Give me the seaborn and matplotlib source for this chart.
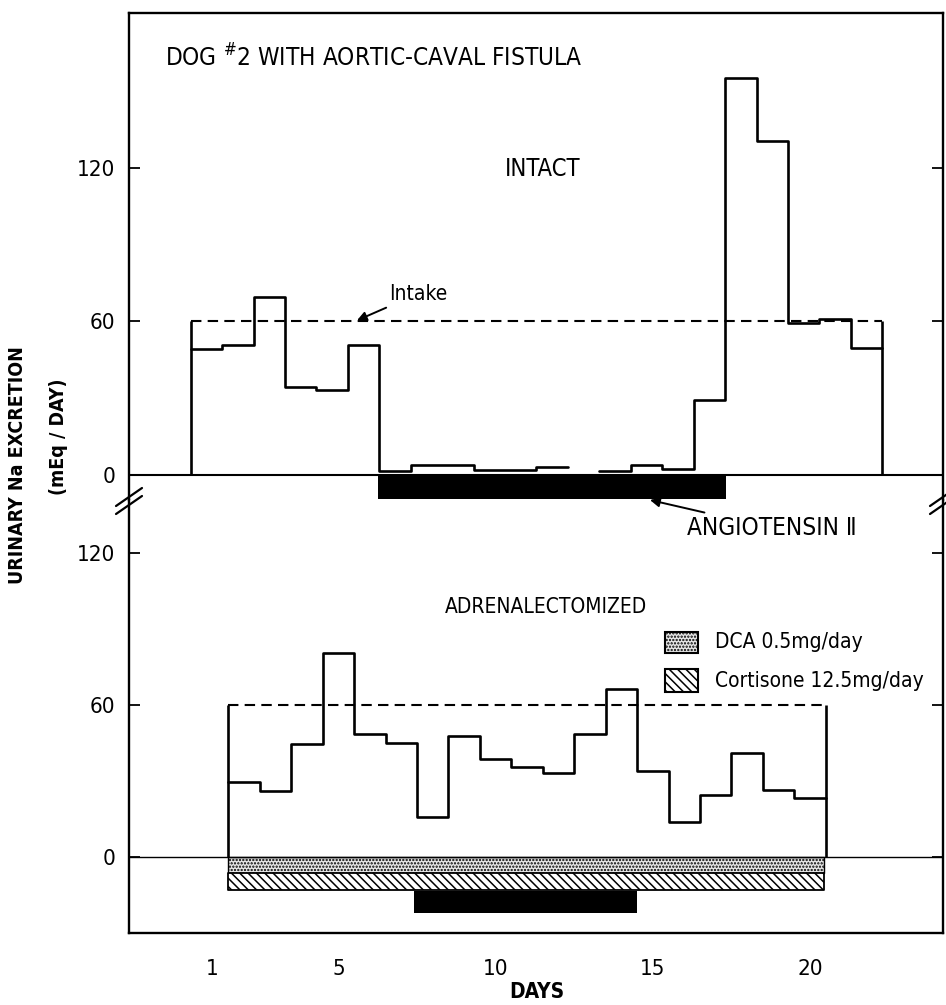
import numpy as np
import pandas as pd
import matplotlib
matplotlib.use('Agg')
import matplotlib.pyplot as plt
import matplotlib.font_manager as fm
from matplotlib.lines import Line2D
from matplotlib.patches import Rectangle
import seaborn as sns

# --- data (mEq/day) ---
intact_values = [49.4, 50.8, 69.5, 34.4, 33.1, 50.8, 1.7, 4.0, 4.0, 2.0, 2.0, 3.1,
                 np.nan, 1.6, 3.9, 2.2, 29.3, 155.0, 130.6, 59.3, 61.1, 49.5]
adx_values = [29.7, 26.1, 44.6, 80.4, 48.4, 44.9, 15.9, 47.9, 38.8, 35.5, 33.0,
              48.4, 66.3, 34.0, 13.7, 24.5, 41.2, 26.5, 23.4]
intake = 60
intact_start = 0.3      # left edge of first intact bin (day axis)
adx_start = 1.5         # left edge of first adrenalectomized bin
angio_intact = (6.26, 17.33)
angio_adx = (7.4, 14.5)
steroid_span = (1.5, 20.45)
day_ticks = [1, 5, 10, 15, 20]
y_ticks = [0, 60, 120]

sns.set_style('ticks')
entries = fm.fontManager.ttflist
if any(f.name == 'DejaVu Sans' and f.stretch == 'condensed' for f in entries):
    family, stretch = 'DejaVu Sans', 'condensed'
elif any(f.name == 'Liberation Sans Narrow' for f in entries):
    family, stretch = 'Liberation Sans Narrow', 'normal'
else:
    family, stretch = 'DejaVu Sans', 'normal'
plt.rcParams['font.family'] = [family, 'DejaVu Sans']
plt.rcParams['font.stretch'] = stretch
plt.rcParams['hatch.linewidth'] = 1.1
for key in ['text.color', 'axes.edgecolor', 'axes.labelcolor', 'xtick.color',
            'ytick.color', 'xtick.labelcolor', 'ytick.labelcolor']:
    plt.rcParams[key] = 'black'


def steps(start, values):
    rows = []
    seg = 0
    for i, v in enumerate(values):
        if np.isnan(v):
            seg += 1
            continue
        rows.append((start + i, v, seg))
        rows.append((start + i + 1, v, seg))
    return pd.DataFrame(rows, columns=['day', 'value', 'seg'])


fig = plt.figure(figsize=(9.46, 10.05), dpi=100)
W, H = 946, 1005
left, right = 129 / W, 943 / W
ax_top = fig.add_axes([left, 1 - 500 / H, right - left, 487 / H])
ax_bot = fig.add_axes([left, 1 - 933 / H, right - left, 433 / H])

xlim = (-1.66, 24.23)
lw = 1.9

for ax, values, start, ylim in [(ax_top, intact_values, intact_start, (-9.8, 180.6)),
                                (ax_bot, adx_values, adx_start, (-30, 140.9))]:
    df = steps(start, values)
    sns.lineplot(data=df, x='day', y='value', units='seg', estimator=None, sort=False,
                 color='black', lw=lw, ax=ax)
    end = start + len(values)
    # intake box: solid sides, dashed top
    sns.lineplot(x=[start, end], y=[intake, intake], color='black', lw=1.5,
                 linestyle=(0, (5, 3)), ax=ax)
    ax.vlines([start, end], 0, intake, color='black', lw=lw)
    ax.set_xlim(*xlim)
    ax.set_ylim(*ylim)
    ax.set_yticks(y_ticks)
    ax.set_xlabel('')
    ax.set_ylabel('')
    ax.tick_params(axis='y', direction='in', length=8, width=1.3, left=True, right=True,
                   labelsize=16, pad=10)
    for s in ax.spines.values():
        s.set_linewidth(1.7)

ax_top.axhline(0, color='black', lw=1.5)
ax_bot.axhline(0, color='black', lw=1.0)
ax_top.spines['bottom'].set_visible(False)
ax_bot.spines['top'].set_visible(False)
ax_top.tick_params(axis='x', bottom=False, labelbottom=False)
ax_bot.set_xticks(day_ticks)
ax_bot.tick_params(axis='x', length=0, labelsize=16, pad=19)

# angiotensin II infusion bars
ax_top.fill_between(angio_intact, -9.4, 0, color='black', lw=0)
ax_bot.fill_between(angio_adx, -22, -13.4, color='black', lw=0)

# DCA and cortisone bands
ax_bot.fill_between(steroid_span, -6.5, 0, facecolor='#e6e6e6', edgecolor='black',
                    hatch='.....', lw=1.0)
ax_bot.fill_between(steroid_span, -13.2, -6.5, facecolor='white', edgecolor='black',
                    hatch='\\\\\\\\', lw=1.3)

# legend
ax_bot.add_patch(Rectangle((15.38, 80.5), 1.05, 8.3, facecolor='#e6e6e6',
                           edgecolor='black', hatch='.....', lw=1.5))
ax_bot.add_patch(Rectangle((15.38, 65.1), 1.05, 9.1, facecolor='white',
                           edgecolor='black', hatch='\\\\\\\\', lw=1.5))
ax_bot.text(16.98, 85.0, 'DCA 0.5mg/day', fontsize=15, va='center', ha='left')
ax_bot.text(16.98, 69.6, 'Cortisone 12.5mg/day', fontsize=15, va='center', ha='left')

# labels and annotations
ax_top.text(-0.52, 163, r'DOG $^{\#}$2 WITH AORTIC-CAVAL FISTULA', fontsize=17.5,
            va='center', ha='left')
ax_top.text(11.5, 119.6, 'INTACT', fontsize=17, va='center', ha='center')
ax_bot.text(8.39, 98.7, 'ADRENALECTOMIZED', fontsize=15, va='center', ha='left')
ax_top.annotate('Intake', xy=(5.59, 60.4), xytext=(6.6, 70.8), fontsize=15,
                va='center', ha='left',
                arrowprops=dict(arrowstyle='-|>', color='black', lw=1.4,
                                shrinkA=1, shrinkB=0, mutation_scale=14))
ax_bot.annotate('ANGIOTENSIN Ⅱ', xy=(14.91, 140.9), xytext=(16.1, 129.8), fontsize=17.5,
                va='center', ha='left', annotation_clip=False,
                arrowprops=dict(arrowstyle='-|>', color='black', lw=1.4,
                                shrinkA=1, shrinkB=0, mutation_scale=14))

fig.text(537 / W, 1 - 992 / H, 'DAYS', fontsize=15, fontweight='bold',
         ha='center', va='center')
fig.text(18 / W, 1 - 465 / H, 'URINARY Na EXCRETION', fontsize=14, fontweight='bold',
         rotation=90, ha='center', va='center')
fig.text(59 / W, 1 - 437 / H, '(mEq / DAY)', fontsize=14, fontweight='bold',
         rotation=90, ha='center', va='center')

# axis break marks
for bx, by in [(129, 501), (943, 501)]:
    for off in (-4, 4):
        fig.add_artist(Line2D([(bx - 13) / W, (bx + 13) / W],
                              [1 - (by + off + 9) / H, 1 - (by + off - 9) / H],
                              transform=fig.transFigure, color='black', lw=1.6))

fig.savefig('out.png', dpi=100)
